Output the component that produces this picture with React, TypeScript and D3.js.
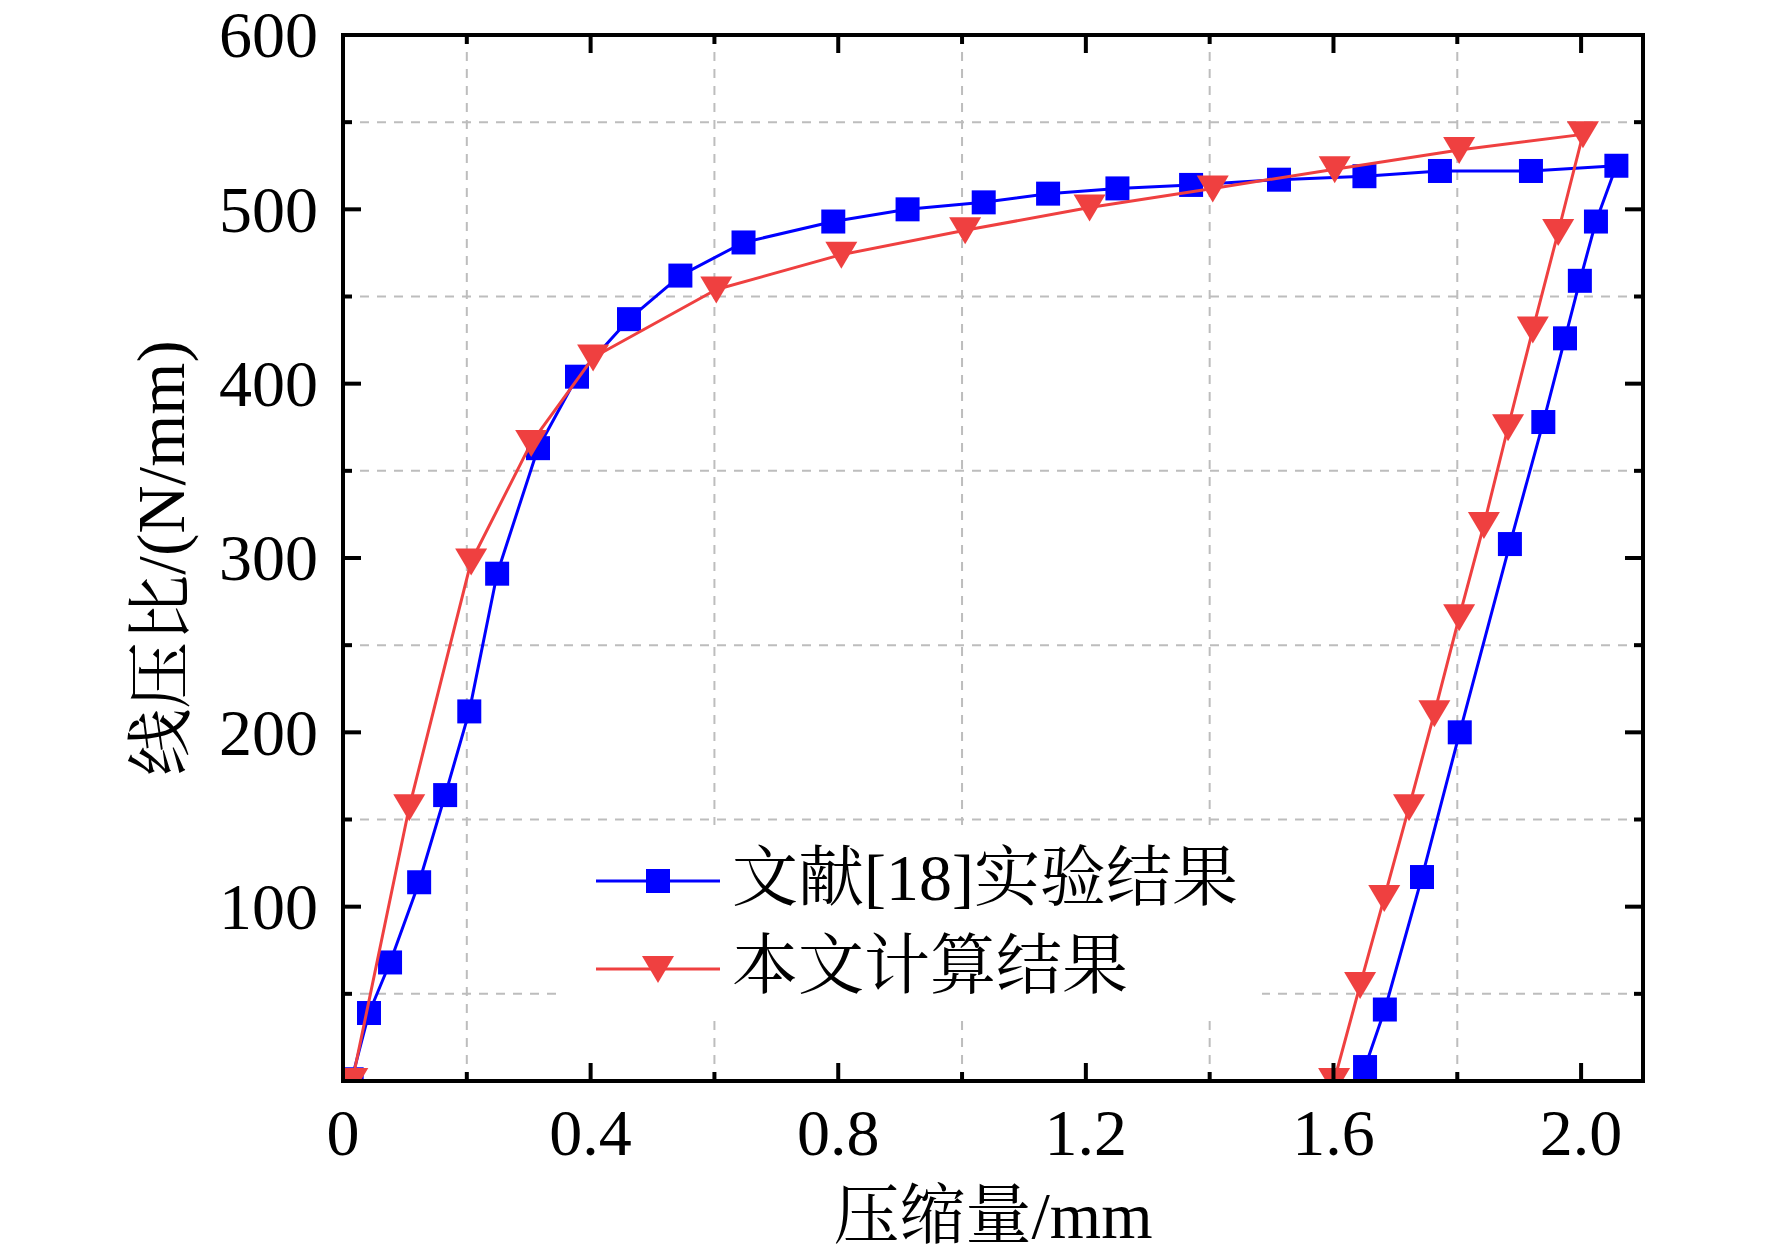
import { useEffect, useRef } from 'react'
import * as d3 from 'd3'

// 文献[18]实验结果: loading branch followed by unloading branch
const expX = [
  0.014, 0.042, 0.076, 0.123, 0.165, 0.204, 0.249, 0.315, 0.378, 0.462, 0.545,
  0.647, 0.792, 0.912, 1.035, 1.139, 1.251, 1.37, 1.512, 1.65, 1.772, 1.919, 2.057,
  2.024, 1.998, 1.974, 1.939, 1.885, 1.804, 1.743, 1.683, 1.651,
]
const expY = [
  1, 39, 68, 114, 164, 212, 291, 363, 404, 437, 462,
  481, 493, 500, 504, 509, 512, 514, 517, 519, 522, 522, 525,
  493, 459, 426, 378, 308, 200, 117, 41, 8,
]

// 本文计算结果
const calcX = [
  0.015, 0.107, 0.207, 0.304, 0.404, 0.603, 0.805, 1.005, 1.206, 1.405, 1.602, 1.803, 2.003,
  1.963, 1.922, 1.882, 1.843, 1.803, 1.763, 1.722, 1.682, 1.643, 1.601,
]
const calcY = [
  0, 157, 298, 366, 415, 454, 474, 488, 501, 512, 523, 534, 543,
  487, 431, 375, 319, 266, 211, 157, 105, 55, 0,
]

const seriesNames = ['文献[18]实验结果', '本文计算结果']

const xMajorTicks = [0, 0.4, 0.8, 1.2, 1.6, 2.0]
const xTickLabels = ['0', '0.4', '0.8', '1.2', '1.6', '2.0']
const xMinorTicks = [0.2, 0.6, 1.0, 1.4, 1.8]
const yMajorTicks = [0, 100, 200, 300, 400, 500, 600]
const yTickLabels = ['', '100', '200', '300', '400', '500', '600']
const yMinorTicks = [50, 150, 250, 350, 450, 550]

const xTitle = '压缩量/mm'
const yTitle = '线压比/(N/mm)'

const WIDTH = 1772
const HEIGHT = 1259
const FONT = '"Times New Roman", "Liberation Serif", "Noto Serif CJK SC", "Noto Sans CJK SC", serif'
const BLUE = '#0000FF'
const RED = '#EF4040'

export default function App() {
  const svgRef = useRef<SVGSVGElement>(null)

  useEffect(() => {
    if (!svgRef.current) return
    const svg = d3.select(svgRef.current)
    svg.selectAll('*').remove()

    const margin = { top: 35, right: 129, bottom: 178, left: 343 }
    const innerW = WIDTH - margin.left - margin.right
    const innerH = HEIGHT - margin.top - margin.bottom

    const x = d3.scaleLinear().domain([0, 2.1]).range([0, innerW])
    const y = d3.scaleLinear().domain([0, 600]).range([innerH, 0])

    svg.append('rect').attr('width', WIDTH).attr('height', HEIGHT).attr('fill', '#fff')

    const g = svg.append('g').attr('transform', `translate(${margin.left},${margin.top})`)

    g.append('clipPath').attr('id', 'plot-clip')
      .append('rect').attr('width', innerW).attr('height', innerH)

    // grid lines (only at minor tick positions)
    const grid = g.append('g')
      .attr('stroke', '#BDBDBD')
      .attr('stroke-width', 2)
      .attr('stroke-dasharray', '9,8')
    grid.selectAll('.gx').data(xMinorTicks).enter().append('line')
      .attr('x1', d => x(d)).attr('x2', d => x(d))
      .attr('y1', 0).attr('y2', innerH)
    grid.selectAll('.gy').data(yMinorTicks).enter().append('line')
      .attr('x1', 0).attr('x2', innerW)
      .attr('y1', d => y(d)).attr('y2', d => y(d))

    // legend background hides the grid beneath it
    const legendX = 219
    const legendY = 790
    g.append('rect')
      .attr('x', legendX).attr('y', legendY)
      .attr('width', 700).attr('height', 193)
      .attr('fill', '#fff')

    const plot = g.append('g').attr('clip-path', 'url(#plot-clip)')

    const triPath = 'M-16,-13L16,-13L0,14Z'
    const sq = 24

    const series = [
      { xs: expX, ys: expY, color: BLUE, marker: 'square' },
      { xs: calcX, ys: calcY, color: RED, marker: 'triangle' },
    ]

    series.forEach(s => {
      const pts = s.xs.map((v, i) => [v, s.ys[i]] as [number, number])
      const line = d3.line<[number, number]>()
        .x(d => x(d[0]))
        .y(d => y(d[1]))
      plot.append('path')
        .datum(pts)
        .attr('d', line)
        .attr('fill', 'none')
        .attr('stroke', s.color)
        .attr('stroke-width', 3)
        .attr('stroke-linejoin', 'round')

      if (s.marker === 'square') {
        plot.selectAll('.sq').data(pts).enter().append('rect')
          .attr('x', d => x(d[0]) - sq / 2)
          .attr('y', d => y(d[1]) - sq / 2)
          .attr('width', sq).attr('height', sq)
          .attr('fill', s.color)
      } else {
        plot.selectAll('.tri').data(pts).enter().append('path')
          .attr('d', triPath)
          .attr('transform', d => `translate(${x(d[0])},${y(d[1])})`)
          .attr('fill', s.color)
      }
    })

    // frame
    g.append('rect')
      .attr('width', innerW).attr('height', innerH)
      .attr('fill', 'none').attr('stroke', '#000').attr('stroke-width', 4)

    // ticks, all inward, on four sides
    const ticks = g.append('g').attr('stroke', '#000').attr('stroke-width', 4)
    const addX = (vals: number[], len: number) => {
      vals.forEach(v => {
        ticks.append('line').attr('x1', x(v)).attr('x2', x(v)).attr('y1', innerH).attr('y2', innerH - len)
        ticks.append('line').attr('x1', x(v)).attr('x2', x(v)).attr('y1', 0).attr('y2', len)
      })
    }
    const addY = (vals: number[], len: number) => {
      vals.forEach(v => {
        ticks.append('line').attr('x1', 0).attr('x2', len).attr('y1', y(v)).attr('y2', y(v))
        ticks.append('line').attr('x1', innerW).attr('x2', innerW - len).attr('y1', y(v)).attr('y2', y(v))
      })
    }
    addX(xMajorTicks, 18)
    addX(xMinorTicks, 9)
    addY(yMajorTicks, 18)
    addY(yMinorTicks, 9)

    // tick labels
    g.selectAll('.xl').data(xMajorTicks).enter().append('text')
      .attr('x', d => x(d))
      .attr('y', innerH + 74)
      .attr('text-anchor', 'middle')
      .attr('font-family', FONT)
      .attr('font-size', 66)
      .text((_, i) => xTickLabels[i])

    g.selectAll('.yl').data(yMajorTicks).enter().append('text')
      .attr('x', -25)
      .attr('y', d => y(d))
      .attr('dy', '0.34em')
      .attr('text-anchor', 'end')
      .attr('font-family', FONT)
      .attr('font-size', 66)
      .text((_, i) => yTickLabels[i])

    // axis titles
    svg.append('text')
      .attr('x', margin.left + innerW / 2)
      .attr('y', 1238)
      .attr('text-anchor', 'middle')
      .attr('font-family', FONT)
      .attr('font-size', 66)
      .text(xTitle)

    svg.append('text')
      .attr('transform', `translate(184,${margin.top + 523}) rotate(-90)`)
      .attr('text-anchor', 'middle')
      .attr('font-family', FONT)
      .attr('font-size', 67)
      .text(yTitle)

    // legend
    const legend = g.append('g').attr('transform', `translate(${legendX},${legendY})`)
    series.forEach((s, i) => {
      const row = legend.append('g').attr('transform', `translate(0,${56 + i * 88})`)
      row.append('line')
        .attr('x1', 34).attr('x2', 158)
        .attr('y1', 0).attr('y2', 0)
        .attr('stroke', s.color).attr('stroke-width', 3)
      if (s.marker === 'square') {
        row.append('rect')
          .attr('x', 96 - sq / 2).attr('y', -sq / 2)
          .attr('width', sq).attr('height', sq)
          .attr('fill', s.color)
      } else {
        row.append('path')
          .attr('d', triPath)
          .attr('transform', 'translate(96,0)')
          .attr('fill', s.color)
      }
      row.append('text')
        .attr('x', 170)
        .attr('y', 19)
        .attr('font-family', FONT)
        .attr('font-size', 66)
        .text(seriesNames[i])
    })
  }, [])

  return (
    <svg
      ref={svgRef}
      width={WIDTH}
      height={HEIGHT}
      style={{ position: 'absolute', left: 0, top: 0, display: 'block' }}
    />
  )
}
